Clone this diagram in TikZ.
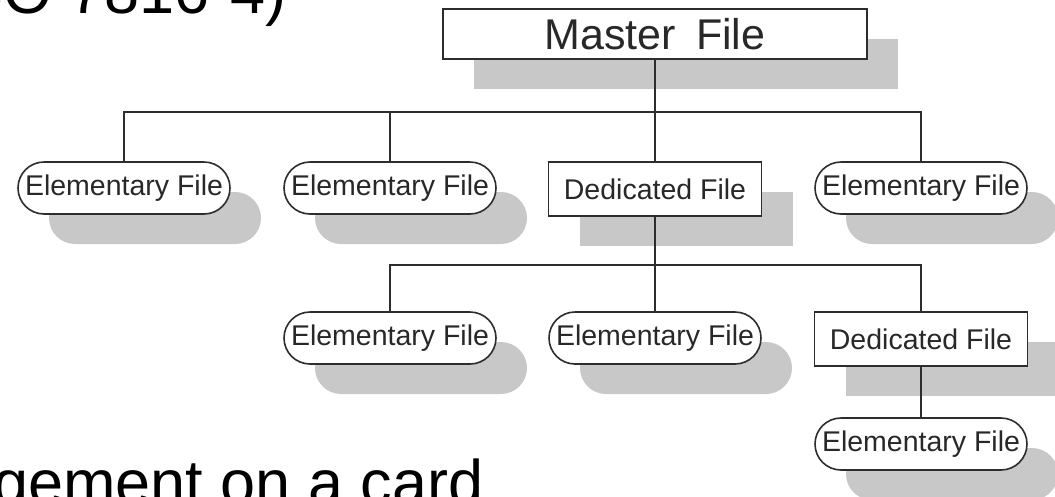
\documentclass[tikz,border=0pt]{standalone}
\usepackage{fontspec}
\setmainfont{Liberation Sans}
\usetikzlibrary{shapes.misc,shadows}
\definecolor{shadowgray}{RGB}{200,200,200}
\definecolor{linegray}{RGB}{45,45,45}
\definecolor{textgray}{RGB}{40,40,40}
\begin{document}
\begin{tikzpicture}[x=1pt,y=-1pt,
  filebox/.style={draw=linegray, line width=1.6pt, fill=white, text=textgray,
    font=\fontsize{28.5}{30}\selectfont, minimum height=52pt, inner sep=0pt,
    drop shadow={shadow xshift=31pt, shadow yshift=-30pt, fill=shadowgray, opacity=1}},
  elem/.style={filebox, rounded rectangle, minimum width=212pt},
  dedic/.style={filebox, rectangle, minimum width=213pt, minimum height=54pt},
  masterbox/.style={filebox, rectangle, minimum width=424pt, minimum height=50pt,
    font=\fontsize{43}{45}\selectfont},
  conn/.style={draw=linegray, line width=1.6pt},
  slidetext/.style={inner sep=0pt, font=\fontsize{63}{70}\selectfont, text=black}]
\useasboundingbox (0,0) rectangle (1055,496);
\clip (0,0) rectangle (1055,496);

% slide text, cut by the picture's edges (upward y inside this scope)
\begin{scope}[y=1pt]
\node[slidetext, anchor=base east] (title) at (287,-13) {(ISO 7816-4)};
\node[slidetext, anchor=base west] (foot) at (-7,-504) {gement on a card};
\end{scope}

% nodes
\node[masterbox] (mf) at (655,34) {Master\hspace{20pt}File};
\node[elem]  (e1) at (124,188) {Elementary File};
\node[elem]  (e2) at (390,188) {Elementary File};
\node[dedic] (d1) at (655,189) {Dedicated File};
\node[elem]  (e3) at (921,188) {Elementary File};
\node[elem]  (e4) at (390,338) {Elementary File};
\node[elem]  (e5) at (655,338) {Elementary File};
\node[dedic] (d2) at (921,339) {Dedicated File};
\node[elem]  (e6) at (921,444) {Elementary File};

% bus points
\coordinate (b1) at (655,112);
\coordinate (b2) at (655,265);

% connectors
\draw[conn] (mf.south) -- (b1);
\draw[conn] (e1.north) |- (b1);
\draw[conn] (e2.north) |- (b1);
\draw[conn] (e3.north) |- (b1);
\draw[conn] (b1) -- (d1.north);
\draw[conn] (d1.south) -- (b2);
\draw[conn] (e4.north) |- (b2);
\draw[conn] (b2) -- (e5.north);
\draw[conn] (d2.north) |- (b2);
\draw[conn] (d2.south) -- (e6.north);
\end{tikzpicture}
\end{document}
